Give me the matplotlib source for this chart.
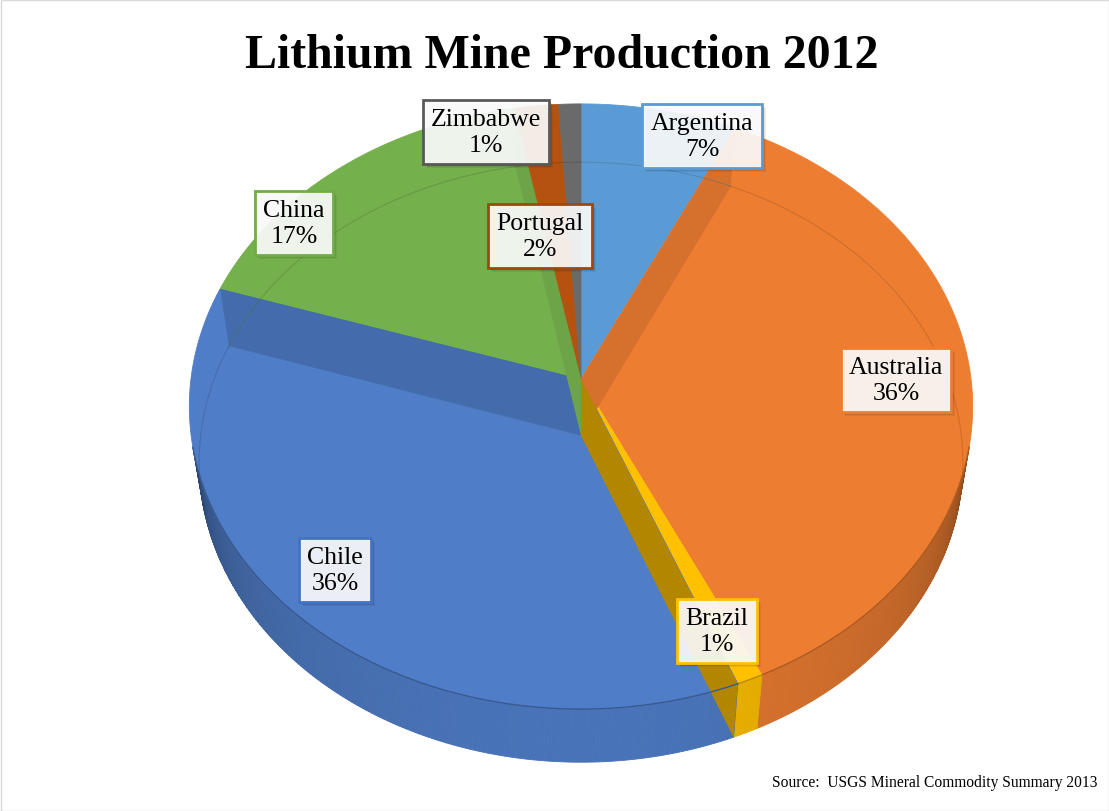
import numpy as np
import matplotlib
matplotlib.use("Agg")
import matplotlib.pyplot as plt
from matplotlib.patches import Polygon, Rectangle
from matplotlib.colors import to_rgb

# ---- data -------------------------------------------------------------
countries = ["Argentina", "Australia", "Brazil", "Chile", "China", "Portugal", "Zimbabwe"]
shares = [7, 36, 1, 36, 17, 2, 1]          # percent of world mine production
colors = ["#5B9BD5", "#ED7D31", "#FFC000", "#4F7DC8", "#74B04C", "#B5520F", "#6A6A6A"]
edge_colors = ["#5B9BD5", "#ED7D31", "#FFC000", "#4472C4", "#70AD47", "#9E480E", "#595959"]
# label anchor points (pixel layout)
label_xy = [(702, 137), (896, 381), (717, 632), (335, 571), (294, 224), (540, 237), (486, 133)]

title = "Lithium Mine Production 2012"
source = "Source:  USGS Mineral Commodity Summary 2013"

# ---- 3-D pie geometry (perspective camera) ----------------------------
W, H = 1109, 812
CX, CY = 581, 380
PHI = np.radians(50.3)
DIST = 7.03
FOC = 2742.0
THICK = 0.233
S, C = np.sin(PHI), np.cos(PHI)


def project(alpha_deg, r=1.0, h=0.0):
    a = np.radians(alpha_deg)
    x = r * np.sin(a)
    z = -r * np.cos(a)
    depth = DIST - (h * S + z * C)
    up = h * C - z * S
    return CX + FOC * x / depth, CY - FOC * up / depth


def shade(col, f):
    r, g, b = to_rgb(col)
    return (r * f, g * f, b * f)


def arc(a0, a1, h=0.0, step=0.5):
    n = max(2, int(abs(a1 - a0) / step) + 1)
    al = np.linspace(a0, a1, n)
    xs, ys = project(al, 1.0, h)
    return np.column_stack([xs, ys])


total = float(sum(shares))
bounds = np.concatenate([[0.0], np.cumsum(shares) / total * 360.0])

# visible part of the outer wall
k = 1.0 / (DIST * C)
lo = np.degrees(np.arccos(-k))
hi = 360.0 - lo

fig = plt.figure(figsize=(W / 100, H / 100), dpi=100)
ax = fig.add_axes([0, 0, 1, 1])
ax.set_xlim(0, W)
ax.set_ylim(H, 0)
ax.axis("off")

# outer wall, drawn in thin shaded strips
for i, col in enumerate(colors):
    a0, a1 = max(bounds[i], lo), min(bounds[i + 1], hi)
    if a1 <= a0:
        continue
    edges = np.linspace(a0, a1, max(2, int((a1 - a0) / 0.5) + 1))
    for b0, b1 in zip(edges[:-1], edges[1:]):
        m = np.radians(0.5 * (b0 + b1))
        t = np.clip((-np.cos(m) - k) / (1 - k), 0, 1)
        f = 0.52 + 0.40 * np.sqrt(t)
        top = arc(b0, b1, 0.0, 0.25)
        bot = arc(b1, b0, -THICK, 0.25)
        ax.add_patch(Polygon(np.vstack([top, bot]), closed=True,
                             fc=shade(col, f), ec=shade(col, f), lw=0.6, zorder=1))

# top faces
apex = project(0.0, 0.0, 0.0)
apex_b = project(0.0, 0.0, -THICK)
for i, col in enumerate(colors):
    pts = np.vstack([[apex], arc(bounds[i], bounds[i + 1])])
    ax.add_patch(Polygon(pts, closed=True, fc=col, ec=col, lw=0.6, zorder=2))

# radial faces seen through the top
faces = [(3, "end", 0.86), (1, "start", 0.90), (2, "end", 0.70), (4, "end", 0.93)]
for idx, side, f in faces:
    a = bounds[idx + 1] if side == "end" else bounds[idx]
    q = [apex, project(a), project(a, 1.0, -THICK), apex_b]
    ax.add_patch(Polygon(q, closed=True, fc=shade(colors[idx], f),
                         ec="none", lw=0, zorder=3))

# back half of the base rim, faintly visible
for i, col in enumerate(colors):
    for r0, r1 in [(hi, 360.0), (0.0, lo)]:
        a0, a1 = max(bounds[i], r0), min(bounds[i + 1], r1)
        if a1 <= a0:
            continue
        p = arc(a0, a1, -THICK)
        ax.plot(p[:, 0], p[:, 1], color=shade(col, 0.65), lw=0.8, alpha=0.35, zorder=4)

# front rim edge
for i, col in enumerate(colors):
    a0, a1 = max(bounds[i], lo), min(bounds[i + 1], hi)
    if a1 <= a0:
        continue
    p = arc(a0, a1, 0.0)
    ax.plot(p[:, 0], p[:, 1], color=shade(col, 0.72), lw=1.0, zorder=4)

# data labels
labels = []
for name, pct, (lx, ly), ec in zip(countries, shares, label_xy, edge_colors):
    t = ax.text(lx, ly, f"{name}\n{pct}%", ha="center", va="center", fontsize=18.5,
                family="Liberation Serif", linespacing=1.22, color="black",
                bbox=dict(boxstyle="square,pad=0.32", fc=(1, 1, 1, 0.9), ec=ec, lw=2.0),
                zorder=6)
    labels.append(t)

# soft drop shadow behind each label box
fig.canvas.draw()
inv = ax.transData.inverted()
for t in labels:
    ext = t.get_bbox_patch().get_window_extent()
    (x0, y0), (x1, y1) = inv.transform([[ext.x0, ext.y0], [ext.x1, ext.y1]])
    for off, a in [(4, 0.06), (3, 0.08), (2, 0.08)]:
        ax.add_patch(Rectangle((min(x0, x1) + off, min(y0, y1) + off),
                               abs(x1 - x0), abs(y1 - y0),
                               fc=(0, 0, 0, a), ec="none", zorder=5))

ax.text(562, 56, title, ha="center", va="center", fontsize=34.5,
        family="Liberation Serif", fontweight="bold", color="black", zorder=6)
ax.text(1097, 787, source, ha="right", va="baseline", fontsize=11.2,
        family="Liberation Serif", color="black", zorder=6)

ax.add_patch(Rectangle((0.5, 0.5), W - 1, H - 1, fc="none", ec="#D9D9D9", lw=1.0, zorder=7))

fig.savefig("out.png", dpi=100)
